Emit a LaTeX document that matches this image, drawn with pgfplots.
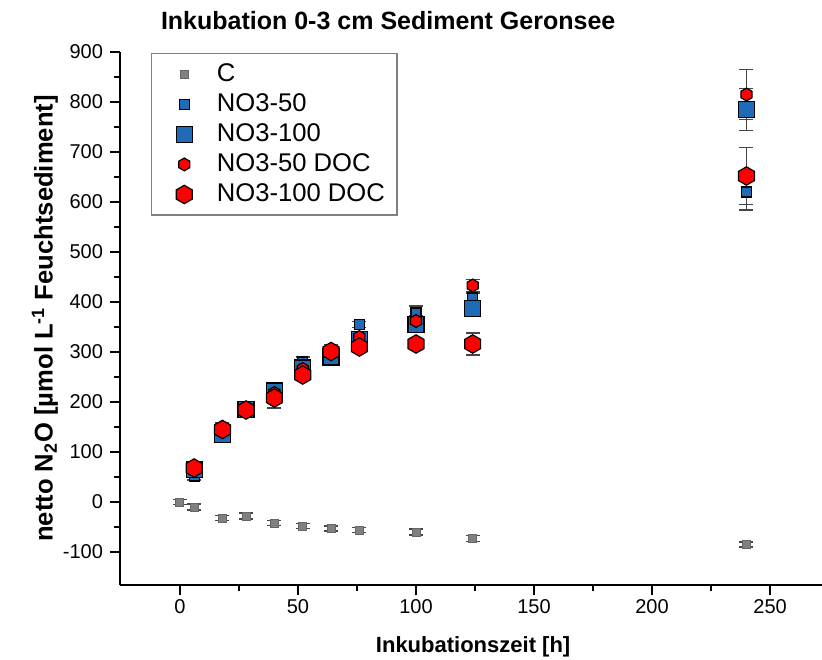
\documentclass[border=0pt]{standalone}
\usepackage{fontspec}
\setmainfont{Liberation Sans}
\usepackage{pgfplots}
\pgfplotsset{compat=1.18}
\definecolor{oblue}{RGB}{31,107,184}
\definecolor{ored}{RGB}{255,0,0}
\definecolor{ogray}{RGB}{128,128,128}
\definecolor{ebar}{RGB}{70,70,70}
\pgfdeclareplotmark{hexagon}{%
  \pgfpathmoveto{\pgfpointpolar{90}{\pgfplotmarksize}}%
  \pgfpathlineto{\pgfpointpolar{150}{\pgfplotmarksize}}%
  \pgfpathlineto{\pgfpointpolar{210}{\pgfplotmarksize}}%
  \pgfpathlineto{\pgfpointpolar{270}{\pgfplotmarksize}}%
  \pgfpathlineto{\pgfpointpolar{330}{\pgfplotmarksize}}%
  \pgfpathlineto{\pgfpointpolar{30}{\pgfplotmarksize}}%
  \pgfpathclose
  \pgfusepathqfillstroke
}
\begin{document}
\begin{tikzpicture}
\useasboundingbox (-60pt,-37pt) rectangle (351pt,292.5pt);
\begin{axis}[
  scale only axis, width=351pt, height=266.5pt,
  xmin=-25.4, xmax=272, ymin=-166, ymax=900,
  axis x line*=bottom, axis y line*=left,
  axis line style={line width=1pt, -},
  tick align=outside,
  xtick={0,50,...,250}, ytick={-100,0,...,900},
  minor x tick num=1, minor y tick num=1,
  major tick length=5pt, minor tick length=3pt,
  every tick/.style={line width=0.9pt, black},
  tick label style={font=\fontsize{10}{12}\selectfont},
  xticklabel style={yshift=1.5pt},
  /pgf/number format/assume math mode=true,
  /pgf/number format/1000 sep={},
  title={\bfseries Inkubation 0-3 cm Sediment Geronsee},
  title style={at={(axis description cs:0.382,1.037)}, anchor=center, font=\fontsize{12.5}{14}\selectfont},
  xlabel={\bfseries Inkubationszeit [h]},
  xlabel style={at={(axis description cs:0.503,-0.116)}, anchor=center, font=\fontsize{11}{13}\selectfont},
  ylabel={\bfseries netto N\textsubscript{2}O [µmol L\textsuperscript{-1} Feuchtsediment]},
  ylabel style={at={(axis description cs:-0.107,0.5)}, anchor=center, font=\fontsize{12.8}{14}\selectfont},
  legend style={at={(axis description cs:0.044,0.998)}, anchor=north west, draw=black!50, line width=0.7pt,
    font=\fontsize{12.8}{14}\selectfont, row sep=0.6pt, inner xsep=4pt, inner ysep=3pt},
  legend cell align=left,
  legend image code/.code={\path (0pt,0pt) (26pt,0pt); \draw[#1] plot coordinates {(12pt,0pt)};},
  error bars/y dir=both, error bars/y explicit,
  error bars/error bar style={line width=0.7pt, ebar},
  error bars/error mark options={rotate=90, mark size=3.5pt, line width=0.7pt, ebar},
]
% C
\addplot[only marks, mark=square*, mark size=2pt, mark options={fill=ogray, draw=ogray!80!black, line width=0.5pt}]
 coordinates {
 (0,0) +- (0,5)
 (6,-10) +- (0,6)
 (18,-32) +- (0,5)
 (28,-28) +- (0,6)
 (40,-42) +- (0,5)
 (52,-48) +- (0,5)
 (64,-53) +- (0,5)
 (76,-56) +- (0,5)
 (100,-60) +- (0,6)
 (124,-73) +- (0,6)
 (240,-85) +- (0,5)
 };
\addlegendentry{C}
% NO3-50
\addplot[only marks, mark=square*, mark size=2.5pt, mark options={fill=oblue, draw=black, line width=0.6pt}]
 coordinates {
 (6,52) +- (0,8)
 (18,130) +- (0,8)
 (28,185) +- (0,8)
 (40,228) +- (0,10)
 (52,280) +- (0,10)
 (64,290) +- (0,10)
 (76,355) +- (0,6)
 (100,378) +- (0,14)
 (124,408) +- (0,10)
 (240,620) +- (0,36)
 };
\addlegendentry{NO3-50}
% NO3-100
\addplot[only marks, mark=square*, mark size=4pt, mark options={fill=oblue, draw=black, line width=0.6pt}]
 coordinates {
 (6,65) +- (0,10)
 (18,135) +- (0,8)
 (28,185) +- (0,8)
 (40,222) +- (0,10)
 (52,268) +- (0,10)
 (64,290) +- (0,10)
 (76,325) +- (0,10)
 (100,355) +- (0,12)
 (124,387) +- (0,12)
 (240,785) +- (0,42)
 };
\addlegendentry{NO3-100}
% NO3-50 DOC
\addplot[only marks, mark=hexagon, mark size=3.2pt, mark options={fill=ored, draw=black, line width=0.6pt}]
 coordinates {
 (6,72) +- (0,8)
 (18,150) +- (0,8)
 (28,185) +- (0,6)
 (40,218) +- (0,8)
 (52,266) +- (0,8)
 (64,305) +- (0,10)
 (76,330) +- (0,8)
 (100,362) +- (0,10)
 (124,433) +- (0,12)
 (240,815) +- (0,50)
 };
\addlegendentry{NO3-50 DOC}
% NO3-100 DOC
\addplot[only marks, mark=hexagon, mark size=4.6pt, mark options={fill=ored, draw=black, line width=0.6pt}]
 coordinates {
 (6,68) +- (0,8)
 (18,145) +- (0,10)
 (28,184) +- (0,8)
 (40,208) +- (0,20)
 (52,254) +- (0,10)
 (64,301) +- (0,10)
 (76,310) +- (0,8)
 (100,316) +- (0,10)
 (124,316) +- (0,22)
 (240,652) +- (0,57)
 };
\addlegendentry{NO3-100 DOC}
\end{axis}
\end{tikzpicture}
\end{document}
